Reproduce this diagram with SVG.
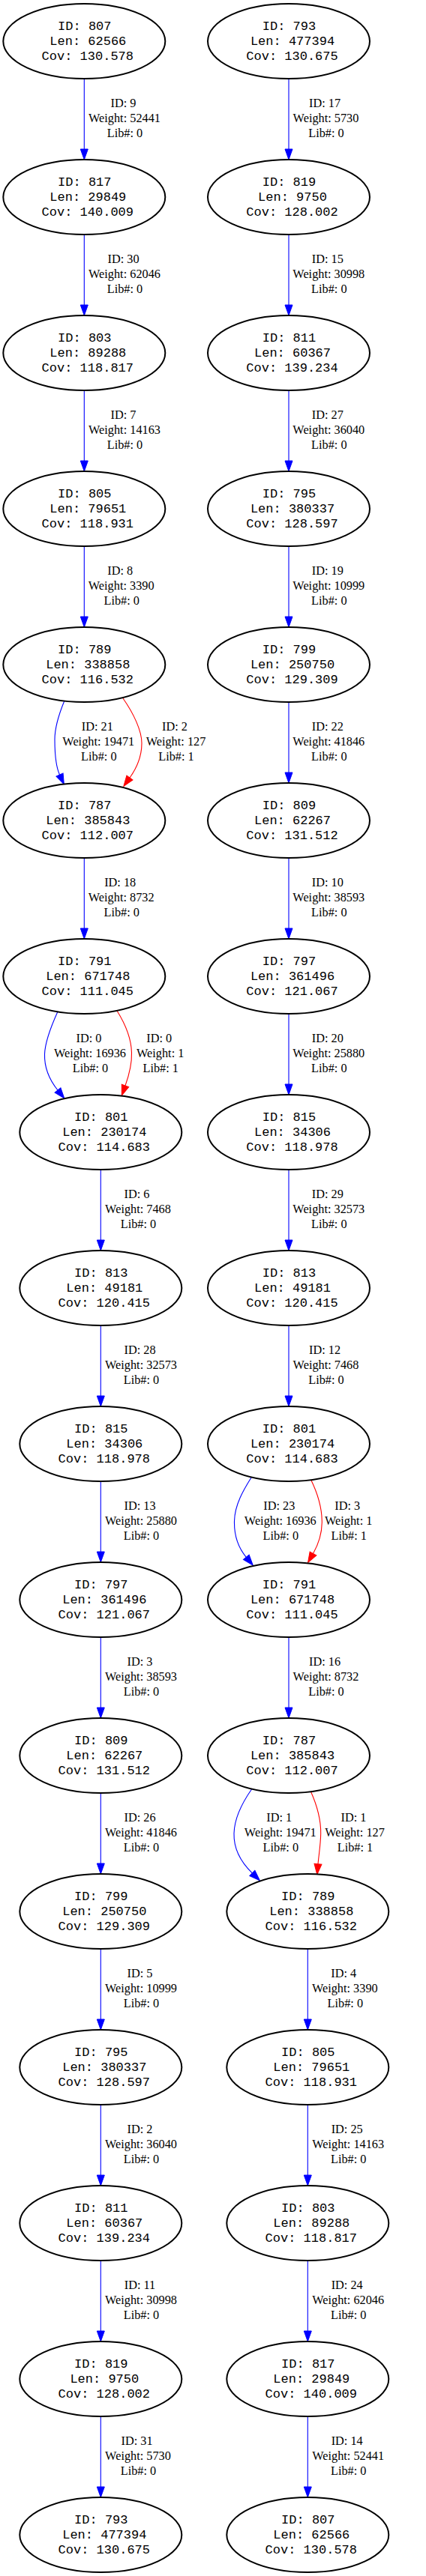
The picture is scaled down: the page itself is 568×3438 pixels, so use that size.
<svg xmlns="http://www.w3.org/2000/svg" width="568" height="3438" viewBox="0 0 568 3438">
<style>
.node ellipse{fill:#fff;stroke:#000;stroke-width:2}
.node text{font-family:"Liberation Mono","Courier New",monospace;font-size:17px;text-anchor:middle;fill:#000}
.el{font-family:"Liberation Serif","Times New Roman",serif;font-size:16.3px;text-anchor:middle;fill:#000}
.b{stroke:#00f;fill:none;stroke-width:1.1;marker-end:url(#ab)}
.r{stroke:#f00;fill:none;stroke-width:1.1;marker-end:url(#ar)}
</style>
<defs>
<marker id="ab" markerWidth="14" markerHeight="10" refX="0" refY="5" orient="auto" markerUnits="userSpaceOnUse" overflow="visible"><path d="M0,0 L14,5 L0,10 z" fill="#00f" stroke="#00f" stroke-width="1"/></marker>
<marker id="ar" markerWidth="14" markerHeight="10" refX="0" refY="5" orient="auto" markerUnits="userSpaceOnUse" overflow="visible"><path d="M0,0 L14,5 L0,10 z" fill="#f00" stroke="#f00" stroke-width="1"/></marker>
</defs>
<rect width="568" height="3438" fill="#fff"/>
<g id="connectors">
<g id="eL1"><path class="b" d="M112.3,105 V199"/><text class="el"><tspan x="164.5" y="143">ID: 9</tspan><tspan x="166" y="163">Weight: 52441</tspan><tspan x="166.5" y="183">Lib#: 0</tspan></text></g>
<g id="eL2"><path class="b" d="M112.3,313 V407"/><text class="el"><tspan x="164.5" y="351">ID: 30</tspan><tspan x="166" y="371">Weight: 62046</tspan><tspan x="166.5" y="391">Lib#: 0</tspan></text></g>
<g id="eL3"><path class="b" d="M112.3,521 V615"/><text class="el"><tspan x="164.5" y="559">ID: 7</tspan><tspan x="166" y="579">Weight: 14163</tspan><tspan x="166.5" y="599">Lib#: 0</tspan></text></g>
<g id="eL4"><path class="b" d="M112.3,729 V823"/><text class="el"><tspan x="160.2" y="767">ID: 8</tspan><tspan x="161.7" y="787">Weight: 3390</tspan><tspan x="162.2" y="807">Lib#: 0</tspan></text></g>
<g id="eL5a"><path class="b" d="M86,935 C79,952 73,970 73,987 C73,1005 74,1022 79.5,1034"/><text class="el"><tspan x="129.8" y="975">ID: 21</tspan><tspan x="131.3" y="995">Weight: 19471</tspan><tspan x="131.8" y="1015">Lib#: 0</tspan></text></g>
<g id="eL5b"><path class="r" d="M164,932 C178,952 189,975 189,992 C189,1008 183,1024 173,1038"/><text class="el"><tspan x="233" y="975">ID: 2</tspan><tspan x="234.5" y="995">Weight: 127</tspan><tspan x="235" y="1015">Lib#: 1</tspan></text></g>
<g id="eL6"><path class="b" d="M112.3,1145 V1239"/><text class="el"><tspan x="160.2" y="1183">ID: 18</tspan><tspan x="161.7" y="1203">Weight: 8732</tspan><tspan x="162.2" y="1223">Lib#: 0</tspan></text></g>
<g id="eL7a"><path class="b" d="M76.7,1350.7 C68,1370 60,1390 59.5,1407 C59,1425 65,1440 77,1455"/><text class="el"><tspan x="118.5" y="1391">ID: 0</tspan><tspan x="120" y="1411">Weight: 16936</tspan><tspan x="120.5" y="1431">Lib#: 0</tspan></text></g>
<g id="eL7b"><path class="r" d="M156,1349 C166,1365 175,1385 175.5,1405 C176,1420 172,1435 167,1449"/><text class="el"><tspan x="212.2" y="1391">ID: 0</tspan><tspan x="213.7" y="1411">Weight: 1</tspan><tspan x="214.2" y="1431">Lib#: 1</tspan></text></g>
<g id="eL8"><path class="b" d="M134.3,1561 V1655"/><text class="el"><tspan x="182.5" y="1599">ID: 6</tspan><tspan x="184" y="1619">Weight: 7468</tspan><tspan x="184.5" y="1639">Lib#: 0</tspan></text></g>
<g id="eL9"><path class="b" d="M134.3,1769 V1863"/><text class="el"><tspan x="186.5" y="1807">ID: 28</tspan><tspan x="188" y="1827">Weight: 32573</tspan><tspan x="188.5" y="1847">Lib#: 0</tspan></text></g>
<g id="eL10"><path class="b" d="M134.3,1977 V2071"/><text class="el"><tspan x="186.5" y="2015">ID: 13</tspan><tspan x="188" y="2035">Weight: 25880</tspan><tspan x="188.5" y="2055">Lib#: 0</tspan></text></g>
<g id="eL11"><path class="b" d="M134.3,2185 V2279"/><text class="el"><tspan x="186.5" y="2223">ID: 3</tspan><tspan x="188" y="2243">Weight: 38593</tspan><tspan x="188.5" y="2263">Lib#: 0</tspan></text></g>
<g id="eL12"><path class="b" d="M134.3,2393 V2487"/><text class="el"><tspan x="186.5" y="2431">ID: 26</tspan><tspan x="188" y="2451">Weight: 41846</tspan><tspan x="188.5" y="2471">Lib#: 0</tspan></text></g>
<g id="eL13"><path class="b" d="M134.3,2601 V2695"/><text class="el"><tspan x="186.5" y="2639">ID: 5</tspan><tspan x="188" y="2659">Weight: 10999</tspan><tspan x="188.5" y="2679">Lib#: 0</tspan></text></g>
<g id="eL14"><path class="b" d="M134.3,2809 V2903"/><text class="el"><tspan x="186.5" y="2847">ID: 2</tspan><tspan x="188" y="2867">Weight: 36040</tspan><tspan x="188.5" y="2887">Lib#: 0</tspan></text></g>
<g id="eL15"><path class="b" d="M134.3,3017 V3111"/><text class="el"><tspan x="186.5" y="3055">ID: 11</tspan><tspan x="188" y="3075">Weight: 30998</tspan><tspan x="188.5" y="3095">Lib#: 0</tspan></text></g>
<g id="eL16"><path class="b" d="M134.3,3225 V3319"/><text class="el"><tspan x="182.5" y="3263">ID: 31</tspan><tspan x="184" y="3283">Weight: 5730</tspan><tspan x="184.5" y="3303">Lib#: 0</tspan></text></g>

<g id="eR1"><path class="b" d="M385,105 V199"/><text class="el"><tspan x="433" y="143">ID: 17</tspan><tspan x="434.5" y="163">Weight: 5730</tspan><tspan x="435" y="183">Lib#: 0</tspan></text></g>
<g id="eR2"><path class="b" d="M385,313 V407"/><text class="el"><tspan x="436.8" y="351">ID: 15</tspan><tspan x="438.3" y="371">Weight: 30998</tspan><tspan x="438.8" y="391">Lib#: 0</tspan></text></g>
<g id="eR3"><path class="b" d="M385,521 V615"/><text class="el"><tspan x="436.8" y="559">ID: 27</tspan><tspan x="438.3" y="579">Weight: 36040</tspan><tspan x="438.8" y="599">Lib#: 0</tspan></text></g>
<g id="eR4"><path class="b" d="M385,729 V823"/><text class="el"><tspan x="436.8" y="767">ID: 19</tspan><tspan x="438.3" y="787">Weight: 10999</tspan><tspan x="438.8" y="807">Lib#: 0</tspan></text></g>
<g id="eR5"><path class="b" d="M385,937 V1031"/><text class="el"><tspan x="436.8" y="975">ID: 22</tspan><tspan x="438.3" y="995">Weight: 41846</tspan><tspan x="438.8" y="1015">Lib#: 0</tspan></text></g>
<g id="eR6"><path class="b" d="M385,1145 V1239"/><text class="el"><tspan x="436.8" y="1183">ID: 10</tspan><tspan x="438.3" y="1203">Weight: 38593</tspan><tspan x="438.8" y="1223">Lib#: 0</tspan></text></g>
<g id="eR7"><path class="b" d="M385,1353 V1447"/><text class="el"><tspan x="436.8" y="1391">ID: 20</tspan><tspan x="438.3" y="1411">Weight: 25880</tspan><tspan x="438.8" y="1431">Lib#: 0</tspan></text></g>
<g id="eR8"><path class="b" d="M385,1561 V1655"/><text class="el"><tspan x="436.8" y="1599">ID: 29</tspan><tspan x="438.3" y="1619">Weight: 32573</tspan><tspan x="438.8" y="1639">Lib#: 0</tspan></text></g>
<g id="eR9"><path class="b" d="M385,1769 V1863"/><text class="el"><tspan x="433" y="1807">ID: 12</tspan><tspan x="434.5" y="1827">Weight: 7468</tspan><tspan x="435" y="1847">Lib#: 0</tspan></text></g>
<g id="eR10a"><path class="b" d="M335,1972 C325,1988 313,2008 312.5,2030 C312,2050 318,2066 328.3,2078.3"/><text class="el"><tspan x="372.3" y="2015">ID: 23</tspan><tspan x="373.8" y="2035">Weight: 16936</tspan><tspan x="374.3" y="2055">Lib#: 0</tspan></text></g>
<g id="eR10b"><path class="r" d="M414.3,1974.3 C422,1990 429,2010 429.3,2030 C429.5,2048 424,2062 417.5,2073.4"/><text class="el"><tspan x="463.2" y="2015">ID: 3</tspan><tspan x="464.7" y="2035">Weight: 1</tspan><tspan x="465.2" y="2055">Lib#: 1</tspan></text></g>
<g id="eR11"><path class="b" d="M385,2185 V2279"/><text class="el"><tspan x="433" y="2223">ID: 16</tspan><tspan x="434.5" y="2243">Weight: 8732</tspan><tspan x="435" y="2263">Lib#: 0</tspan></text></g>
<g id="eR12a"><path class="b" d="M336,2387.3 C325,2403 312.5,2425 312,2447 C311.5,2467 320,2484 336.3,2499.9"/><text class="el"><tspan x="372.3" y="2431">ID: 1</tspan><tspan x="373.8" y="2451">Weight: 19471</tspan><tspan x="374.3" y="2471">Lib#: 0</tspan></text></g>
<g id="eR12b"><path class="r" d="M414.3,2390.7 C422,2408 428,2428 427.7,2447 C427.5,2462 425,2476 424,2487.7"/><text class="el"><tspan x="471.5" y="2431">ID: 1</tspan><tspan x="473" y="2451">Weight: 127</tspan><tspan x="473.5" y="2471">Lib#: 1</tspan></text></g>
<g id="eR13"><path class="b" d="M410.3,2601 V2695"/><text class="el"><tspan x="458.3" y="2639">ID: 4</tspan><tspan x="459.8" y="2659">Weight: 3390</tspan><tspan x="460.3" y="2679">Lib#: 0</tspan></text></g>
<g id="eR14"><path class="b" d="M410.3,2809 V2903"/><text class="el"><tspan x="462.7" y="2847">ID: 25</tspan><tspan x="464.2" y="2867">Weight: 14163</tspan><tspan x="464.7" y="2887">Lib#: 0</tspan></text></g>
<g id="eR15"><path class="b" d="M410.3,3017 V3111"/><text class="el"><tspan x="462.7" y="3055">ID: 24</tspan><tspan x="464.2" y="3075">Weight: 62046</tspan><tspan x="464.7" y="3095">Lib#: 0</tspan></text></g>
<g id="eR16"><path class="b" d="M410.3,3225 V3319"/><text class="el"><tspan x="462.7" y="3263">ID: 14</tspan><tspan x="464.2" y="3283">Weight: 52441</tspan><tspan x="464.7" y="3303">Lib#: 0</tspan></text></g>
</g>

<g id="nL1" class="node" transform="translate(112.3,55)"><ellipse rx="108" ry="50"/><text><tspan x="0.5" y="-15">ID: 807</tspan><tspan x="5" y="5">Len: 62566</tspan><tspan x="4.5" y="25">Cov: 130.578</tspan></text></g>
<g id="nL2" class="node" transform="translate(112.3,263)"><ellipse rx="108" ry="50"/><text><tspan x="0.5" y="-15">ID: 817</tspan><tspan x="5" y="5">Len: 29849</tspan><tspan x="4.5" y="25">Cov: 140.009</tspan></text></g>
<g id="nL3" class="node" transform="translate(112.3,471)"><ellipse rx="108" ry="50"/><text><tspan x="0.5" y="-15">ID: 803</tspan><tspan x="5" y="5">Len: 89288</tspan><tspan x="4.5" y="25">Cov: 118.817</tspan></text></g>
<g id="nL4" class="node" transform="translate(112.3,679)"><ellipse rx="108" ry="50"/><text><tspan x="0.5" y="-15">ID: 805</tspan><tspan x="5" y="5">Len: 79651</tspan><tspan x="4.5" y="25">Cov: 118.931</tspan></text></g>
<g id="nL5" class="node" transform="translate(112.3,887)"><ellipse rx="108" ry="50"/><text><tspan x="0.5" y="-15">ID: 789</tspan><tspan x="5" y="5">Len: 338858</tspan><tspan x="4.5" y="25">Cov: 116.532</tspan></text></g>
<g id="nL6" class="node" transform="translate(112.3,1095)"><ellipse rx="108" ry="50"/><text><tspan x="0.5" y="-15">ID: 787</tspan><tspan x="5" y="5">Len: 385843</tspan><tspan x="4.5" y="25">Cov: 112.007</tspan></text></g>
<g id="nL7" class="node" transform="translate(112.3,1303)"><ellipse rx="108" ry="50"/><text><tspan x="0.5" y="-15">ID: 791</tspan><tspan x="5" y="5">Len: 671748</tspan><tspan x="4.5" y="25">Cov: 111.045</tspan></text></g>
<g id="nL8" class="node" transform="translate(134.3,1511)"><ellipse rx="108" ry="50"/><text><tspan x="0.5" y="-15">ID: 801</tspan><tspan x="5" y="5">Len: 230174</tspan><tspan x="4.5" y="25">Cov: 114.683</tspan></text></g>
<g id="nL9" class="node" transform="translate(134.3,1719)"><ellipse rx="108" ry="50"/><text><tspan x="0.5" y="-15">ID: 813</tspan><tspan x="5" y="5">Len: 49181</tspan><tspan x="4.5" y="25">Cov: 120.415</tspan></text></g>
<g id="nL10" class="node" transform="translate(134.3,1927)"><ellipse rx="108" ry="50"/><text><tspan x="0.5" y="-15">ID: 815</tspan><tspan x="5" y="5">Len: 34306</tspan><tspan x="4.5" y="25">Cov: 118.978</tspan></text></g>
<g id="nL11" class="node" transform="translate(134.3,2135)"><ellipse rx="108" ry="50"/><text><tspan x="0.5" y="-15">ID: 797</tspan><tspan x="5" y="5">Len: 361496</tspan><tspan x="4.5" y="25">Cov: 121.067</tspan></text></g>
<g id="nL12" class="node" transform="translate(134.3,2343)"><ellipse rx="108" ry="50"/><text><tspan x="0.5" y="-15">ID: 809</tspan><tspan x="5" y="5">Len: 62267</tspan><tspan x="4.5" y="25">Cov: 131.512</tspan></text></g>
<g id="nL13" class="node" transform="translate(134.3,2551)"><ellipse rx="108" ry="50"/><text><tspan x="0.5" y="-15">ID: 799</tspan><tspan x="5" y="5">Len: 250750</tspan><tspan x="4.5" y="25">Cov: 129.309</tspan></text></g>
<g id="nL14" class="node" transform="translate(134.3,2759)"><ellipse rx="108" ry="50"/><text><tspan x="0.5" y="-15">ID: 795</tspan><tspan x="5" y="5">Len: 380337</tspan><tspan x="4.5" y="25">Cov: 128.597</tspan></text></g>
<g id="nL15" class="node" transform="translate(134.3,2967)"><ellipse rx="108" ry="50"/><text><tspan x="0.5" y="-15">ID: 811</tspan><tspan x="5" y="5">Len: 60367</tspan><tspan x="4.5" y="25">Cov: 139.234</tspan></text></g>
<g id="nL16" class="node" transform="translate(134.3,3175)"><ellipse rx="108" ry="50"/><text><tspan x="0.5" y="-15">ID: 819</tspan><tspan x="5" y="5">Len: 9750</tspan><tspan x="4.5" y="25">Cov: 128.002</tspan></text></g>
<g id="nL17" class="node" transform="translate(134.3,3383)"><ellipse rx="108" ry="50"/><text><tspan x="0.5" y="-15">ID: 793</tspan><tspan x="5" y="5">Len: 477394</tspan><tspan x="4.5" y="25">Cov: 130.675</tspan></text></g>

<g id="nR1" class="node" transform="translate(385,55)"><ellipse rx="108" ry="50"/><text><tspan x="0.5" y="-15">ID: 793</tspan><tspan x="5" y="5">Len: 477394</tspan><tspan x="4.5" y="25">Cov: 130.675</tspan></text></g>
<g id="nR2" class="node" transform="translate(385,263)"><ellipse rx="108" ry="50"/><text><tspan x="0.5" y="-15">ID: 819</tspan><tspan x="5" y="5">Len: 9750</tspan><tspan x="4.5" y="25">Cov: 128.002</tspan></text></g>
<g id="nR3" class="node" transform="translate(385,471)"><ellipse rx="108" ry="50"/><text><tspan x="0.5" y="-15">ID: 811</tspan><tspan x="5" y="5">Len: 60367</tspan><tspan x="4.5" y="25">Cov: 139.234</tspan></text></g>
<g id="nR4" class="node" transform="translate(385,679)"><ellipse rx="108" ry="50"/><text><tspan x="0.5" y="-15">ID: 795</tspan><tspan x="5" y="5">Len: 380337</tspan><tspan x="4.5" y="25">Cov: 128.597</tspan></text></g>
<g id="nR5" class="node" transform="translate(385,887)"><ellipse rx="108" ry="50"/><text><tspan x="0.5" y="-15">ID: 799</tspan><tspan x="5" y="5">Len: 250750</tspan><tspan x="4.5" y="25">Cov: 129.309</tspan></text></g>
<g id="nR6" class="node" transform="translate(385,1095)"><ellipse rx="108" ry="50"/><text><tspan x="0.5" y="-15">ID: 809</tspan><tspan x="5" y="5">Len: 62267</tspan><tspan x="4.5" y="25">Cov: 131.512</tspan></text></g>
<g id="nR7" class="node" transform="translate(385,1303)"><ellipse rx="108" ry="50"/><text><tspan x="0.5" y="-15">ID: 797</tspan><tspan x="5" y="5">Len: 361496</tspan><tspan x="4.5" y="25">Cov: 121.067</tspan></text></g>
<g id="nR8" class="node" transform="translate(385,1511)"><ellipse rx="108" ry="50"/><text><tspan x="0.5" y="-15">ID: 815</tspan><tspan x="5" y="5">Len: 34306</tspan><tspan x="4.5" y="25">Cov: 118.978</tspan></text></g>
<g id="nR9" class="node" transform="translate(385,1719)"><ellipse rx="108" ry="50"/><text><tspan x="0.5" y="-15">ID: 813</tspan><tspan x="5" y="5">Len: 49181</tspan><tspan x="4.5" y="25">Cov: 120.415</tspan></text></g>
<g id="nR10" class="node" transform="translate(385,1927)"><ellipse rx="108" ry="50"/><text><tspan x="0.5" y="-15">ID: 801</tspan><tspan x="5" y="5">Len: 230174</tspan><tspan x="4.5" y="25">Cov: 114.683</tspan></text></g>
<g id="nR11" class="node" transform="translate(385,2135)"><ellipse rx="108" ry="50"/><text><tspan x="0.5" y="-15">ID: 791</tspan><tspan x="5" y="5">Len: 671748</tspan><tspan x="4.5" y="25">Cov: 111.045</tspan></text></g>
<g id="nR12" class="node" transform="translate(385,2343)"><ellipse rx="108" ry="50"/><text><tspan x="0.5" y="-15">ID: 787</tspan><tspan x="5" y="5">Len: 385843</tspan><tspan x="4.5" y="25">Cov: 112.007</tspan></text></g>
<g id="nR13" class="node" transform="translate(410.3,2551)"><ellipse rx="108" ry="50"/><text><tspan x="0.5" y="-15">ID: 789</tspan><tspan x="5" y="5">Len: 338858</tspan><tspan x="4.5" y="25">Cov: 116.532</tspan></text></g>
<g id="nR14" class="node" transform="translate(410.3,2759)"><ellipse rx="108" ry="50"/><text><tspan x="0.5" y="-15">ID: 805</tspan><tspan x="5" y="5">Len: 79651</tspan><tspan x="4.5" y="25">Cov: 118.931</tspan></text></g>
<g id="nR15" class="node" transform="translate(410.3,2967)"><ellipse rx="108" ry="50"/><text><tspan x="0.5" y="-15">ID: 803</tspan><tspan x="5" y="5">Len: 89288</tspan><tspan x="4.5" y="25">Cov: 118.817</tspan></text></g>
<g id="nR16" class="node" transform="translate(410.3,3175)"><ellipse rx="108" ry="50"/><text><tspan x="0.5" y="-15">ID: 817</tspan><tspan x="5" y="5">Len: 29849</tspan><tspan x="4.5" y="25">Cov: 140.009</tspan></text></g>
<g id="nR17" class="node" transform="translate(410.3,3383)"><ellipse rx="108" ry="50"/><text><tspan x="0.5" y="-15">ID: 807</tspan><tspan x="5" y="5">Len: 62566</tspan><tspan x="4.5" y="25">Cov: 130.578</tspan></text></g>
</svg>
